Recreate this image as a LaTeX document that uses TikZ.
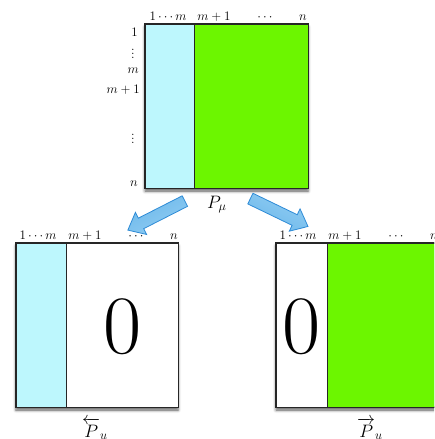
\RequirePackage{fix-cm}
\documentclass[tikz,border=0pt]{standalone}
\usepackage{amsmath}
\usetikzlibrary{shapes.arrows,shadows.blur}
\definecolor{cyanc}{HTML}{BDF7FD}
\definecolor{greenc}{HTML}{6CF600}
\definecolor{arrfill}{HTML}{6CB8EA}
\definecolor{arrtop}{HTML}{92CDF3}
\definecolor{arredge}{HTML}{2E8BD6}
\tikzset{
  frame/.style={draw=black!85, line width=1.2pt, fill=white, inner sep=0pt,
    blur shadow={shadow xshift=0pt, shadow yshift=-3pt, shadow blur radius=3pt, shadow opacity=65}},
  cell/.style={draw=black!85, line width=1pt, inner sep=0pt},
  lab/.style={font=\fontsize{13}{15}\selectfont, inner sep=0pt},
  big/.style={font=\fontsize{83}{83}\selectfont, inner sep=0pt},
  plab/.style={font=\fontsize{18}{20}\selectfont, inner sep=0pt},
  fatarrow/.style={single arrow, draw=arredge, line width=0.8pt,
    top color=arrtop, bottom color=arrfill, shading angle=#1,
    inner sep=5.5pt, single arrow head extend=6.5pt, single arrow tip angle=80,
    minimum height=64pt, rotate=#1}
}
\begin{document}
\begin{tikzpicture}[x=1pt,y=-1pt]
\useasboundingbox (0,0) rectangle (434,439);
\clip (0,0) rectangle (434,439);
% top matrix
\node[frame, minimum width=163pt, minimum height=164pt] (top) at (226.5,106) {};
\node[cell, fill=cyanc, minimum width=49pt, minimum height=164pt] (topL) at (169.5,106) {};
\node[cell, fill=greenc, minimum width=114pt, minimum height=164pt] (topR) at (251,106) {};
\draw[line width=1.2pt, black!85] (top.north west) rectangle (top.south east);
% column labels top
\node[lab, anchor=base] (tc1) at (168,20) {$1\cdots m$};
\node[lab, anchor=base] (tc2) at (214,20) {$m+1$};
\node[lab, anchor=base] (tc3) at (266,20) {$\cdots$};
\node[lab, anchor=base] (tc4) at (303,20) {$n$};
% row labels
\node[lab, anchor=base east] (r1) at (138,36) {$1$};
\node[lab, anchor=base] (r2) at (133,58) {$\vdots$};
\node[lab, anchor=base east] (r3) at (139,73) {$m$};
\node[lab, anchor=base east] (r4) at (140,93) {$m+1$};
\node[lab, anchor=base] (r5) at (133,143) {$\vdots$};
\node[lab, anchor=base east] (r6) at (138,186) {$n$};
\node[plab, anchor=base west] (pmu) at (207,208) {$P_\mu$};
% bottom left
\node[frame, minimum width=162pt, minimum height=164pt] (bl) at (97,325) {};
\node[cell, fill=cyanc, minimum width=50pt, minimum height=164pt] (blL) at (41,325) {};
\node[cell, fill=white, minimum width=112pt, minimum height=164pt] (blR) at (122,325) {};
\draw[line width=1.2pt, black!85] (bl.north west) rectangle (bl.south east);
\node[big] (z1) at (123,327) {0};
\node[lab, anchor=base] (lc1) at (38,239) {$1\cdots m$};
\node[lab, anchor=base] (lc2) at (85,239) {$m+1$};
\node[lab, anchor=base] (lc3) at (137,239) {$\cdots$};
\node[lab, anchor=base] (lc4) at (174,239) {$n$};
\node[plab, anchor=base west] (pl) at (82,437) {$\overleftarrow{P}_u$};
% bottom right
\node[frame, minimum width=162pt, minimum height=164pt] (br) at (357,325) {};
\node[cell, fill=white, minimum width=51pt, minimum height=164pt] (brL) at (301.5,325) {};
\node[cell, fill=greenc, minimum width=111pt, minimum height=164pt] (brR) at (382.5,325) {};
\draw[line width=1.2pt, black!85] (br.north west) rectangle (br.south east);
\node[big] (z2) at (302,327) {0};
\node[lab, anchor=base] (rc1) at (298,239) {$1\cdots m$};
\node[lab, anchor=base] (rc2) at (345,239) {$m+1$};
\node[lab, anchor=base] (rc3) at (397,239) {$\cdots$};
\node[lab, anchor=base] (rc4) at (434,239) {$n$};
\node[plab, anchor=base west] (pr) at (357,437) {$\overrightarrow{P}_u$};
% arrows
\node[fatarrow=207] (a1) at (159.5,214) {};
\node[fatarrow=-25.8] (a2) at (276,211) {};
\end{tikzpicture}
\end{document}
